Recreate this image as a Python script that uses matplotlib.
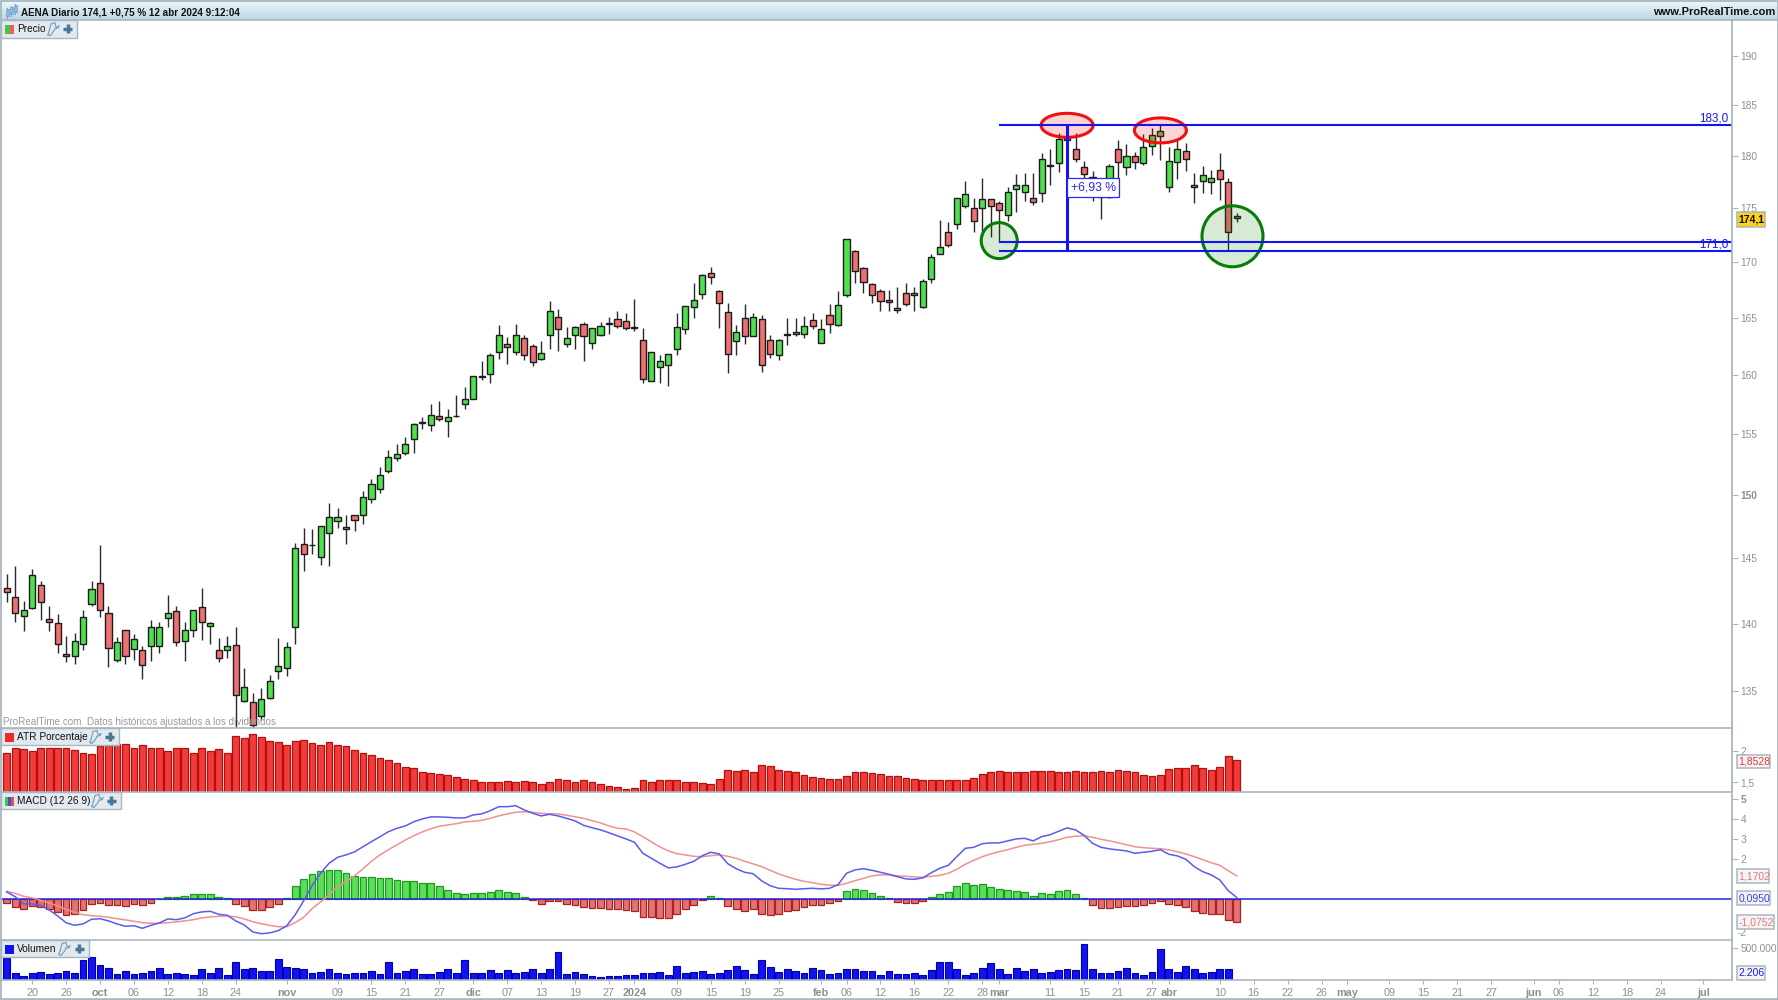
import numpy as np
import matplotlib
matplotlib.use("Agg")
import matplotlib.pyplot as plt
from matplotlib.patches import Ellipse, Rectangle
from matplotlib.transforms import Affine2D
from matplotlib.ticker import NullLocator

plt.rcParams['font.family'] = ['Liberation Sans', 'DejaVu Sans']

# ---------- data ----------
opens = [142.7,142.0,140.6,141.2,142.9,140.3,140.0,137.7,137.6,138.5,141.5,143.1,140.8,137.3,139.5,138.1,138.0,138.3,138.3,140.4,
         140.9,138.7,139.5,141.2,139.8,138.0,138.0,138.4,134.3,134.2,133.2,134.5,136.5,136.7,139.7,146.1,146.0,145.1,147.0,147.9,
         147.4,148.4,148.4,149.7,150.5,152.0,153.0,153.4,154.6,156.0,155.8,156.5,156.1,156.5,157.5,158.0,159.9,160.1,162.0,162.7,
         162.0,163.2,162.5,161.4,163.5,165.1,162.7,163.5,164.4,162.8,163.5,164.5,164.9,164.7,164.2,163.0,159.5,160.7,160.9,162.3,
         164.0,166.0,167.1,169.0,167.4,165.5,163.0,165.0,163.4,164.9,163.0,161.7,163.6,163.7,163.6,164.8,162.8,165.2,164.4,167.0,
         171.0,169.5,168.0,167.4,166.6,165.7,167.2,167.0,166.0,168.5,170.8,172.8,173.5,175.2,175.0,175.0,175.9,175.5,174.4,176.8,
         176.6,176.0,176.5,179.1,179.3,181.7,180.7,178.9,178.0,176.1,176.1,180.7,178.9,180.0,179.3,181.0,182.0,177.0,179.4,180.5,
         177.0,177.6,177.5,178.6,177.5,174.3]
highs = [143.8,144.4,141.7,144.2,143.2,141.3,140.7,139.1,139.3,141.0,143.2,146.0,141.3,139.0,139.5,139.2,138.3,140.3,140.1,142.2,
         141.3,140.1,141.0,142.7,140.1,138.9,139.1,139.7,136.7,134.9,135.2,136.2,138.9,138.6,146.2,147.4,147.3,147.5,149.4,149.0,
         148.4,148.4,150.3,151.3,152.3,153.7,154.2,154.8,155.9,156.4,157.5,157.8,157.1,158.3,159.0,159.9,161.2,161.9,164.4,163.3,
         164.5,163.5,162.7,163.0,166.5,165.8,164.2,164.3,164.6,164.1,164.6,165.1,165.6,165.4,166.7,164.1,162.0,161.7,161.8,165.4,
         166.0,168.1,168.9,169.6,167.5,166.3,164.4,166.2,165.4,165.3,163.5,163.1,165.0,165.0,165.2,165.4,164.9,166.2,167.4,172.1,
         171.1,169.6,168.1,167.6,167.5,167.8,168.1,167.8,168.5,170.8,173.9,173.7,176.0,177.6,176.0,177.9,175.9,175.7,177.0,178.3,
         178.4,178.4,180.3,180.7,182.2,183.0,182.2,179.5,178.6,177.7,179.2,181.6,181.2,180.4,182.1,182.7,183.0,180.9,181.6,181.3,
         178.4,179.0,178.7,180.3,177.9,174.6]
lows = [141.6,140.1,139.4,141.1,140.3,139.4,137.8,137.1,137.0,138.0,141.3,140.5,136.8,137.1,137.0,137.3,135.9,137.2,137.8,139.7,
        138.3,137.2,139.0,138.8,138.5,137.1,137.4,132.3,134.2,132.3,132.9,134.4,135.9,136.1,138.5,144.0,145.3,144.5,144.4,147.4,
        146.1,147.1,147.7,149.4,150.2,151.8,152.8,153.3,153.4,155.4,155.3,156.1,154.8,156.4,157.1,158.0,159.6,159.3,161.4,161.0,
        161.7,161.3,160.8,161.3,162.3,162.1,162.4,162.3,161.2,162.3,163.4,163.6,164.1,163.9,163.8,159.3,159.5,159.3,159.1,161.7,
        163.6,165.0,166.7,168.0,164.1,160.2,161.7,162.7,163.4,160.3,161.5,161.3,162.6,163.4,163.2,164.0,162.8,163.7,164.3,166.9,
        168.1,167.2,166.3,165.6,165.6,165.4,166.1,165.6,165.9,168.1,170.8,171.4,173.1,175.0,172.8,172.4,172.3,171.9,173.8,174.7,
        175.7,175.3,175.6,177.2,178.5,179.5,179.4,177.2,175.7,174.0,176.0,177.9,178.2,178.8,179.1,180.1,179.6,176.6,177.8,178.6,
        175.5,176.5,176.4,175.8,171.1,173.7]
closes = [142.4,140.8,141.0,143.7,141.6,140.1,138.5,137.6,138.7,140.5,142.6,141.0,138.2,138.6,137.6,138.8,136.9,139.7,139.7,140.8,
          138.6,139.5,141.0,140.1,140.0,137.4,138.3,134.7,135.3,132.6,134.4,135.7,136.8,138.2,145.8,145.3,146.0,147.5,148.2,148.2,
          147.3,148.0,149.8,150.9,151.6,153.1,153.3,154.2,155.8,155.9,156.6,156.3,156.4,156.5,157.9,159.9,159.8,161.7,163.5,162.4,
          163.5,161.7,161.1,161.9,165.6,164.0,163.2,164.2,163.4,164.1,164.3,164.5,164.3,164.1,164.1,159.7,162.0,161.2,161.8,164.2,
          166.0,166.6,168.8,168.7,166.3,161.8,163.7,163.4,165.1,160.9,161.8,163.0,163.5,163.6,164.3,164.3,164.0,164.5,166.1,172.1,
          169.2,168.2,167.0,166.5,166.4,165.9,166.2,167.2,168.3,170.5,171.4,171.6,176.0,176.3,173.8,175.9,175.2,174.9,176.5,177.2,
          177.2,175.6,179.7,179.0,181.6,181.6,179.7,178.3,177.9,176.3,179.0,179.4,180.0,179.4,180.9,182.0,182.4,179.5,180.7,179.7,
          177.2,178.2,177.9,177.8,172.8,174.1]
atr = [1.96,2.04,2.02,1.99,2.04,2.04,2.05,2.04,2.01,1.97,1.95,2.07,2.09,2.10,2.11,2.05,2.09,2.05,2.04,2.00,
       2.04,2.04,1.97,2.04,1.99,2.02,1.97,2.23,2.20,2.26,2.21,2.15,2.14,2.09,2.15,2.17,2.12,2.09,2.14,2.09,
       2.07,2.01,1.97,1.93,1.89,1.85,1.80,1.74,1.73,1.67,1.64,1.63,1.61,1.58,1.56,1.54,1.51,1.50,1.50,1.52,
       1.50,1.52,1.50,1.47,1.50,1.55,1.54,1.51,1.54,1.51,1.48,1.44,1.42,1.39,1.41,1.53,1.50,1.53,1.53,1.53,
       1.50,1.50,1.49,1.47,1.55,1.70,1.68,1.70,1.66,1.77,1.76,1.70,1.68,1.66,1.62,1.58,1.57,1.55,1.55,1.60,
       1.66,1.66,1.64,1.63,1.60,1.60,1.57,1.55,1.54,1.53,1.54,1.53,1.53,1.53,1.57,1.63,1.66,1.68,1.67,1.67,
       1.67,1.68,1.68,1.68,1.67,1.67,1.68,1.66,1.67,1.68,1.67,1.70,1.68,1.66,1.61,1.60,1.61,1.71,1.73,1.72,
       1.77,1.73,1.70,1.75,1.91,1.85]
macd_line = [.37,.13,-.23,-.23,-.30,-.53,-.83,-1.17,-1.30,-1.23,-1.00,-.97,-1.08,-1.23,-1.35,-1.32,-1.45,-1.30,-1.18,-.98,
             -1.02,-.93,-.72,-.63,-.60,-.75,-.80,-1.08,-1.28,-1.63,-1.72,-1.68,-1.57,-1.33,-.78,-.08,.68,1.30,1.80,2.10,
             2.22,2.37,2.63,2.88,3.13,3.38,3.55,3.67,3.88,4.02,4.12,4.12,4.10,4.07,4.07,4.22,4.27,4.43,4.63,4.63,
             4.68,4.47,4.30,4.17,4.25,4.17,4.05,3.92,3.70,3.58,3.47,3.33,3.17,3.02,2.85,2.30,2.05,1.80,1.57,1.62,
             1.75,1.90,2.18,2.35,2.27,1.78,1.53,1.35,1.28,.92,.68,.55,.53,.50,.53,.55,.52,.55,.73,1.30,
             1.47,1.53,1.45,1.35,1.25,1.13,1.02,1.00,1.07,1.33,1.55,1.70,2.13,2.55,2.60,2.78,2.82,2.82,2.92,3.02,
             3.05,2.92,3.13,3.23,3.40,3.57,3.47,3.20,2.80,2.60,2.52,2.47,2.42,2.30,2.35,2.40,2.48,2.25,2.17,2.00,
             1.63,1.38,1.22,.97,.43,.095]
signal_line = [.40,.30,.15,.07,-.05,-.18,-.33,-.50,-.65,-.77,-.82,-.85,-.90,-.97,-1.03,-1.10,-1.17,-1.20,-1.20,-1.17,
               -1.13,-1.08,-1.02,-.93,-.88,-.85,-.83,-.88,-.98,-1.12,-1.22,-1.30,-1.37,-1.37,-1.17,-.90,-.47,-.13,.22,.63,
               .90,1.17,1.53,1.90,2.22,2.48,2.72,2.97,3.18,3.37,3.53,3.65,3.72,3.78,3.87,3.90,3.95,4.05,4.17,4.27,
               4.35,4.38,4.35,4.30,4.27,4.27,4.20,4.13,4.05,3.93,3.82,3.67,3.55,3.52,3.37,3.13,2.87,2.62,2.42,2.28,
               2.22,2.15,2.13,2.18,2.22,2.15,2.05,1.90,1.77,1.63,1.45,1.27,1.13,1.00,.90,.83,.75,.70,.70,.80,
               .93,1.05,1.17,1.22,1.22,1.17,1.15,1.12,1.10,1.15,1.20,1.30,1.50,1.75,1.95,2.13,2.27,2.38,2.48,2.60,
               2.70,2.75,2.80,2.88,2.98,3.10,3.15,3.18,3.10,3.00,2.92,2.83,2.73,2.63,2.58,2.55,2.53,2.47,2.38,2.27,
               2.13,1.98,1.83,1.70,1.43,1.17]
macd_hist = [-.17,-.40,-.48,-.33,-.40,-.50,-.62,-.77,-.72,-.53,-.25,-.18,-.27,-.27,-.35,-.25,-.30,-.17,.01,
             .13,.10,.15,.28,.28,.28,.10,.05,
             -.25,-.35,-.53,-.53,-.40,-.22,
             .05,.68,1.00,1.25,1.40,1.48,1.48,1.30,1.15,1.10,1.10,1.05,1.05,.95,.92,.92,.83,.80,.65,.48,.33,.28,.33,.33,.38,.45,.38,.33,.13,
             -.05,-.22,-.07,-.10,-.25,-.30,-.40,-.43,-.43,-.48,-.48,-.53,-.57,-.87,
             -.90,-.95,-.95,-.72,-.48,-.30,-.02,.15,.05,-.35,-.48,-.58,-.48,-.72,-.77,-.72,-.58,-.53,-.40,-.30,-.30,-.20,-.07,
             .42,.50,.45,.33,.18,.05,
             -.12,-.17,-.17,-.07,
             .13,.27,.37,.68,.83,.70,.75,.60,.50,.45,.40,.37,.18,.32,.27,.42,.47,.28,.07,
             -.30,-.45,-.43,-.40,-.35,-.35,-.30,-.17,-.07,-.25,-.30,-.40,-.58,-.68,-.72,-.72,-1.05,-1.12]
volume = [342000,105000,63000,105000,121000,89000,105000,137000,105000,310000,358000,237000,195000,89000,137000,89000,105000,137000,195000,89000,
          105000,89000,74000,168000,105000,195000,74000,279000,168000,195000,137000,137000,337000,211000,195000,168000,105000,121000,168000,105000,
          89000,105000,105000,137000,89000,279000,105000,137000,179000,89000,89000,121000,179000,105000,310000,105000,105000,153000,105000,153000,
          105000,121000,168000,105000,179000,442000,89000,121000,89000,58000,47000,58000,58000,74000,74000,105000,105000,121000,74000,221000,
          105000,121000,137000,89000,105000,153000,221000,153000,89000,310000,205000,121000,168000,137000,105000,195000,153000,89000,105000,168000,
          168000,137000,137000,74000,137000,89000,89000,105000,74000,153000,279000,279000,179000,74000,105000,195000,263000,179000,89000,195000,
          137000,168000,105000,121000,153000,168000,153000,563000,168000,105000,105000,137000,195000,105000,74000,121000,484000,168000,121000,221000,
          168000,105000,121000,168000,179000,2206]

price_ticks = [135,140,145,150,155,160,165,170,175,180,185,190]
level_high, level_low, level_mid = 183.0, 171.0, 171.9
date_idx = [3,7,11,15,19,23,27,33,39,43,47,51,55,59,63,67,71,74,79,83,87,91,96,99,103,107,111,115,117,123,127,131,135,137,143,147,151,155,158,163,167,171,175,180,183,187,191,195,200]
date_lab = ['20','26','oct','06','12','18','24','nov','09','15','21','27','dic','07','13','19','27','2024','09','15','19','25','feb','06','12','16','22','28','mar','11','15','21','27','abr','10','16','22','26','may','09','15','21','27','jun','06','12','18','24','jul']
bold_lab = {'oct','nov','dic','2024','feb','mar','abr','may','jun','jul'}

# ---------- layout ----------
W, H = 1778, 1000
fig = plt.figure(figsize=(W/100, H/100), dpi=100, facecolor='white')
def panel(y0, y1, x1=1732):
    a = fig.add_axes([0, 1-y1/H, x1/W, (y1-y0)/H])
    for s in a.spines.values():
        s.set_visible(False)
    a.set_facecolor('none')
    return a

GREY = '#8f8f8f'
LINE = '#a9b6bf'
n = len(closes)
x = np.arange(n)
xlim = (-6.7/8.483, (1732-6.7)/8.483)
width = 0.72

ax = panel(20, 728)
ax_atr = panel(728, 792)
ax_macd = panel(792, 940)
ax_vol = panel(940, 980)
for a in (ax, ax_atr, ax_macd, ax_vol):
    a.set_xlim(*xlim)
    a.yaxis.tick_right()
    a.tick_params(axis='y', length=4, width=0.8, color=LINE, labelcolor=GREY, labelsize=7.3, pad=2)
    a.tick_params(axis='x', length=0, labelbottom=False)
    a.set_xticks([])

# price panel
ax.set_yscale('log')
ax.set_ylim(190*np.exp(-672.5/1860), 190*np.exp(35.5/1860))
ax.yaxis.set_minor_locator(NullLocator())
ax.set_yticks(price_ticks)
ax.set_yticklabels([str(t) for t in price_ticks])
ax.yaxis.set_minor_formatter(matplotlib.ticker.NullFormatter())
for t, l in zip(price_ticks, ax.get_yticklabels()):
    if t == 150:
        l.set_fontweight('bold')

o, h, l, c = map(np.array, (opens, highs, lows, closes))
ax.vlines(x, l, h, color='#2a2a2a', lw=1.0, zorder=2)
ax.bar(x, np.abs(c-o)+0.02, bottom=np.minimum(o, c), width=width,
       color=['#4fdf4f' if cc >= oo else '#ef7070' for oo, cc in zip(o, c)],
       edgecolor='#1c1c1c', linewidth=1.0, zorder=3)

# drawn objects on the price panel
BLUE = '#1414f0'
def pix_shape(i, p, w, hh, ec, fc):
    px, py = ax.transData.transform((i, p))
    e = Ellipse((0, 0), w, hh, transform=Affine2D().translate(px, py),
                facecolor=fc, edgecolor=ec, linewidth=2.2, zorder=4)
    ax.add_patch(e)
pix_shape(125, 183.0, 52, 24, '#f01010', (1, 0, 0, 0.17))
pix_shape(136, 182.5, 52, 25, '#f01010', (1, 0, 0, 0.17))
pix_shape(117, 172.0, 36, 36, '#087a08', (0, 0.5, 0, 0.16))
pix_shape(144.5, 172.4, 61, 61, '#087a08', (0, 0.5, 0, 0.16))
ax.hlines([level_high, level_low, level_mid], 117, xlim[1], color=BLUE, lw=1.5, zorder=5)
ax.vlines(125, level_low+0.1, level_high, color=BLUE, lw=2.2, zorder=5)
ax.text(128.1, 177.0, '+6,93 %', color='#2a2af0', fontsize=8.8, ha='center', va='center', zorder=6,
        bbox=dict(boxstyle='square,pad=0.28', fc='white', ec='#2a2af0', lw=0.9))
ax.text(xlim[1]-0.45, 183.08, '183,0', color=BLUE, fontsize=8.4, ha='right', va='bottom', zorder=6)
ax.text(xlim[1]-0.45, 171.08, '171,0', color=BLUE, fontsize=8.4, ha='right', va='bottom', zorder=6)
ax.text(0.002, 0.0085, 'ProRealTime.com  Datos históricos ajustados a los dividendos', transform=ax.transAxes,
        color='#9a9a9a', fontsize=7.15, ha='left', va='center', zorder=6)

# ATR
base_atr = 1.5 - 9.7/63.2
ax_atr.set_ylim(base_atr, base_atr + 64/63.2)
ax_atr.bar(x, np.array(atr)-base_atr, bottom=base_atr, width=0.8, color='#f23b3b', edgecolor='#b40f0f', linewidth=0.9)
ax_atr.set_yticks([1.5, 2])
ax_atr.set_yticklabels(['1,5', '2'])

# MACD
ax_macd.set_ylim(-40.7/20, 107.3/20)
hist = np.array(macd_hist)
ax_macd.bar(x, hist, width=0.8, color=['#58e058' if v >= 0 else '#e57272' for v in hist],
            edgecolor=['#1f9a1f' if v >= 0 else '#a82222' for v in hist], linewidth=0.9, zorder=2)
ax_macd.axhline(0, color='#2525d8', lw=1.1, zorder=3)
ax_macd.plot(x, signal_line, color='#f09090', lw=1.1, zorder=4)
ax_macd.plot(x, macd_line, color='#5a5af0', lw=1.1, zorder=5)
ax_macd.set_yticks([5, 4, 3, 2])
ax_macd.set_yticklabels(['5', '4', '3', '2'])
ax_macd.get_yticklabels()[0].set_fontweight('bold')

# Volume
ax_vol.set_ylim(0, 631000)
ax_vol.bar(x, volume, width=0.8, color='#1212f2', edgecolor='#0000a8', linewidth=0.8)
ax_vol.set_yticks([500000])
ax_vol.set_yticklabels(['500.000'])
ax_vol.set_xticks(date_idx)
ax_vol.set_xticklabels(date_lab)
ax_vol.tick_params(axis='x', length=3, width=0.8, color=LINE, labelcolor=GREY, labelsize=7.8, pad=3, labelbottom=True)
for lab in ax_vol.get_xticklabels():
    if lab.get_text() in bold_lab:
        lab.set_fontweight('bold')

# ---------- chrome overlay (pixel coordinates) ----------
ov = fig.add_axes([0, 0, 1, 1], zorder=20)
ov.patch.set_alpha(0)
ov.axis('off')
grad = np.linspace(0, 1, 20)[:, None, None] * (np.array([0.74, 0.84, 0.90]) - np.array([0.93, 0.97, 0.98])) + np.array([0.93, 0.97, 0.98])
ov.imshow(grad, extent=(0, W, 20, 0), aspect='auto', zorder=1)
ov.set_xlim(0, W)
ov.set_ylim(H, 0)
for y_ in (728, 792, 940, 980):
    ov.plot([0, 1732], [y_, y_], color=LINE, lw=1.2, zorder=2)
ov.plot([0, W], [20, 20], color=LINE, lw=1.2, zorder=2)
ov.plot([1732, 1732], [20, 980], color=LINE, lw=1.3, zorder=2)
ov.add_patch(Rectangle((0.5, 0.5), W-1, H-1, fill=False, ec=LINE, lw=1.3, zorder=2))
ov.plot([0, W], [998.5, 998.5], color=LINE, lw=1.2, zorder=2)

# -2 label of the MACD scale, pushed up by the panel edge as in the reference
ov.text(1738, 933.5, '-2', color=GREY, fontsize=7.3, va='center', ha='left', zorder=3)

# title
for xc, y0, y1 in ((7, 9, 16), (11, 7, 14), (15, 5, 12)):
    ov.plot([xc, xc], [y0-1, y1+2], color='#6fa0c8', lw=0.7, zorder=3)
    ov.add_patch(Rectangle((xc-1.5, y0), 3, y1-y0, fc='#8fb8dc', ec='#6fa0c8', lw=0.5, zorder=3))
ov.text(21, 12.3, 'AENA Diario 174,1 +0,75 % 12 abr 2024 9:12:04', fontsize=7.15, fontweight='bold', color='#111111', va='center', ha='left', zorder=3)
ov.text(1775, 12.3, 'www.ProRealTime.com', fontsize=8.0, fontweight='bold', color='#111111', va='center', ha='right', zorder=3)

def chip(x1, y0, y1, text, swatches, wx, px_):
    ov.add_patch(Rectangle((0.5, y0), x1, y1-y0, fc='#e2eaf0', ec=LINE, lw=1.0, zorder=7))
    sw = 9.0/len(swatches)
    for k, col in enumerate(swatches):
        ov.add_patch(Rectangle((5+k*sw, y0+4.5), sw, 9, fc=col, ec='none', zorder=8))
    ov.text(17, (y0+y1)/2+0.3, text, fontsize=7.3, color='#111111', va='center', ha='left', zorder=8)
    ym = (y0+y1)/2
    # wrench icon
    ov.plot([wx, wx+2, wx+6, wx+7, wx+9, wx+11, wx+10, wx+8, wx+7, wx+3, wx+1.5, wx],
            [ym+6, ym+7, ym+2, ym-0.5, ym-0.5, ym-3, ym-1, ym-2, ym-6, ym-5, ym+1, ym+6],
            color='#7ba4bf', lw=0.9, zorder=8)
    # plus icon
    ov.plot([px_-4.5, px_+4.5], [ym, ym], color='#47789a', lw=2.5, zorder=8, solid_capstyle='butt')
    ov.plot([px_, px_], [ym-4.5, ym+4.5], color='#47789a', lw=2.5, zorder=8, solid_capstyle='butt')

chip(76, 20, 37.5, 'Precio', ['#46c446', '#e86060'], 48, 67.5)
chip(118, 728, 745, 'ATR Porcentaje', ['#ee2a2a'], 90, 109.5)
chip(120, 792, 809, 'MACD (12 26 9)', ['#46c446', '#4a4ad8', '#e05050'], 92, 111)
chip(88, 940, 957, 'Volumen', ['#1010f0'], 59, 79)

def vbox(x1, y0, y1, text, col, bold=False, fc='#f3f4f5'):
    ov.add_patch(Rectangle((1737, y0), x1-1737, y1-y0, fc=fc, ec=LINE, lw=1.1, zorder=9))
    ov.text(1738.5, (y0+y1)/2+0.3, text, color=col, fontsize=7.5, fontweight='bold' if bold else 'normal', va='center', ha='left', zorder=10)

vbox(1765, 212, 227, '174,1', '#111111', True, '#ffd21a')
vbox(1770, 755, 768, '1,8528', '#ee3434')
vbox(1769, 869, 883, '1,1702', '#ec7474')
vbox(1770, 891, 905, '0,0950', '#3c3ce0')
vbox(1774, 915, 929, '-1,0752', '#ec7474')
vbox(1764.5, 966, 979.5, '2.206', '#1c1cf0')

fig.savefig('out.png', dpi=100)
